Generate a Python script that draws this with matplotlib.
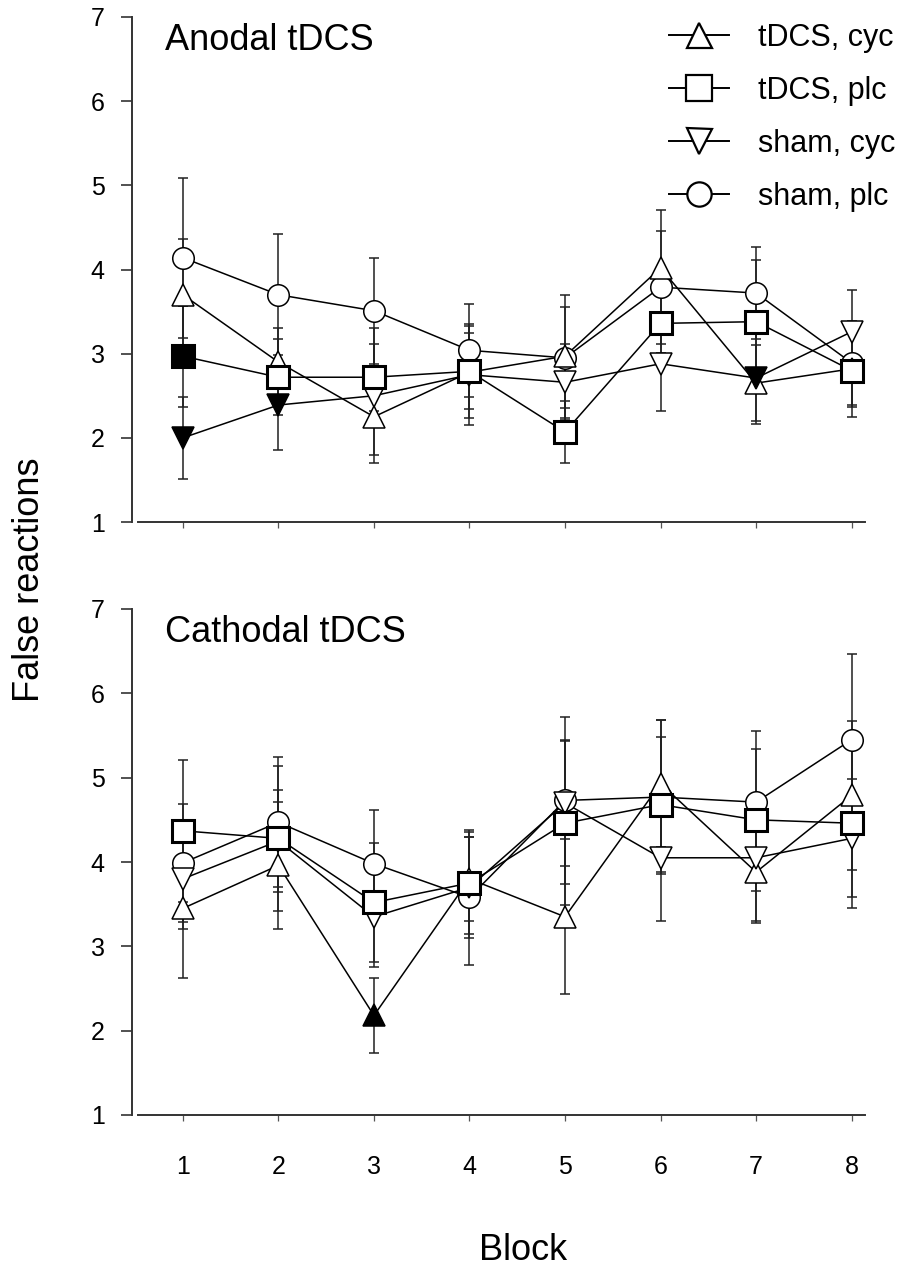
import numpy as np
import matplotlib
matplotlib.use("Agg")
import matplotlib.pyplot as plt
from matplotlib.lines import Line2D

plt.rcParams['font.family'] = ['Liberation Sans', 'DejaVu Sans']

# data
blocks = [1, 2, 3, 4, 5, 6, 7, 8]
series = ['tDCS, cyc', 'tDCS, plc', 'sham, cyc', 'sham, plc']

# anodal tDCS (mean, error)
an_tdcs_cyc = [3.70, 2.90, 2.25, 2.78, 2.97, 4.02, 2.65, 2.82]
an_tdcs_cyc_err = [0.66, 0.40, 0.45, 0.55, 0.73, 0.69, 0.45, 0.45]
an_tdcs_plc = [2.97, 2.72, 2.72, 2.79, 2.07, 3.36, 3.38, 2.80]
an_tdcs_plc_err = [0.60, 0.45, 0.40, 0.45, 0.37, 0.35, 0.73, 0.55]
an_sham_cyc = [2.00, 2.39, 2.50, 2.75, 2.66, 2.88, 2.71, 3.26]
an_sham_cyc_err = [0.49, 0.53, 0.80, 0.60, 0.45, 0.56, 0.55, 0.50]
an_sham_plc = [4.14, 3.70, 3.51, 3.04, 2.95, 3.79, 3.72, 2.89]
an_sham_plc_err = [0.95, 0.72, 0.63, 0.55, 0.60, 0.67, 0.55, 0.50]
an_filled = {'tDCS, plc': [1], 'sham, cyc': [1, 2, 7]}

# cathodal tDCS (mean, error)
ca_tdcs_cyc = [3.45, 3.96, 2.18, 3.80, 3.35, 4.93, 3.88, 4.79]
ca_tdcs_cyc_err = [0.83, 0.75, 0.44, 0.50, 0.92, 0.75, 0.60, 0.88]
ca_tdcs_plc = [4.37, 4.28, 3.52, 3.75, 4.46, 4.68, 4.50, 4.46]
ca_tdcs_plc_err = [0.84, 0.86, 0.70, 0.60, 0.97, 0.80, 0.84, 1.00]
ca_sham_cyc = [3.80, 4.25, 3.35, 3.70, 4.70, 4.05, 4.05, 4.28]
ca_sham_cyc_err = [0.60, 0.60, 0.60, 0.60, 0.75, 0.75, 0.75, 0.70]
ca_sham_plc = [3.99, 4.47, 3.98, 3.58, 4.73, 4.77, 4.71, 5.45]
ca_sham_plc_err = [0.70, 0.77, 0.64, 0.80, 0.99, 0.91, 0.84, 1.02]
ca_filled = {'tDCS, cyc': [3]}

yticks = [1, 2, 3, 4, 5, 6, 7]

#marker styles per series
markers = {'tDCS, cyc': '^', 'tDCS, plc': 's', 'sham, cyc': 'v', 'sham, plc': 'o'}
msizes = {'tDCS, cyc': 16, 'tDCS, plc': 16.5, 'sham, cyc': 16, 'sham, plc': 15.5}
mews = {'tDCS, cyc': 1.1, 'tDCS, plc': 2.2, 'sham, cyc': 1.1, 'sham, plc': 1.1}
stack = ['sham, plc', 'tDCS, cyc', 'sham, cyc', 'tDCS, plc']
ecol = '#202020'
scol = '#333333'

fig = plt.figure(figsize=(9.1, 12.73), dpi=100)
W, H = 910., 1273.
ax_top = fig.add_axes([138/W, 1-522/H, 727/W, 505/H])
ax_bot = fig.add_axes([138/W, 1-1115/H, 727/W, 506/H])


def draw_panel(ax, means, errs, filled, title, show_xlabels):
    x = np.array(blocks)
    for name in series:
        ax.errorbar(x, means[name], yerr=errs[name], fmt='none', ecolor=ecol,
                    elinewidth=1.1, capsize=3.8, capthick=1.1, zorder=1)
    for name in series:
        ax.plot(x, means[name], color='k', lw=1.1, zorder=2)
    for rank, name in enumerate(stack):
        m = np.array(means[name], float)
        full = np.isin(x, filled.get(name, []))
        ax.plot(x[~full], m[~full], ls='none', marker=markers[name],
                ms=msizes[name], mfc='white', mec='k', mew=mews[name],
                zorder=3 + rank)
        if full.any():
            ax.plot(x[full], m[full], ls='none', marker=markers[name],
                    ms=msizes[name], mfc='k', mec='k', mew=mews[name],
                    zorder=3 + rank)

    ax.set_xlim(0.53, 8.14)
    ax.set_ylim(1, 7)
    ax.set_yticks(yticks)
    ax.set_xticks(blocks)
    ax.spines['right'].set_visible(False)
    ax.spines['top'].set_visible(False)
    ax.spines['left'].set_position(('outward', 4))
    for s in ('left', 'bottom'):
        ax.spines[s].set_color(scol)
        ax.spines[s].set_linewidth(1.4)
    ax.tick_params(axis='y', direction='out', length=8, width=1.2,
                   color=scol, labelsize=18, pad=12)
    ax.tick_params(axis='x', direction='out', length=4.5, width=0.9,
                   color='#555555', labelsize=18, pad=24)
    if not show_xlabels:
        ax.set_xticklabels([])
    ax.text(0.037, 1 - 33/505., title, transform=ax.transAxes,
            fontsize=26, va='baseline', ha='left')


draw_panel(ax_top,
           {'tDCS, cyc': an_tdcs_cyc, 'tDCS, plc': an_tdcs_plc,
            'sham, cyc': an_sham_cyc, 'sham, plc': an_sham_plc},
           {'tDCS, cyc': an_tdcs_cyc_err, 'tDCS, plc': an_tdcs_plc_err,
            'sham, cyc': an_sham_cyc_err, 'sham, plc': an_sham_plc_err},
           an_filled, 'Anodal tDCS', False)
draw_panel(ax_bot,
           {'tDCS, cyc': ca_tdcs_cyc, 'tDCS, plc': ca_tdcs_plc,
            'sham, cyc': ca_sham_cyc, 'sham, plc': ca_sham_plc},
           {'tDCS, cyc': ca_tdcs_cyc_err, 'tDCS, plc': ca_tdcs_plc_err,
            'sham, cyc': ca_sham_cyc_err, 'sham, plc': ca_sham_plc_err},
           ca_filled, 'Cathodal tDCS', True)

#legend
handles = [Line2D([], [], color='k', lw=1.4, marker=markers[n], ms=msizes[n] + 2,
                  mfc='white', mec='k', mew=1.6) for n in series]
fig.legend(handles, series, loc='upper left', frameon=False, fontsize=22,
           bbox_to_anchor=(669/W, 1 - 23/H), bbox_transform=fig.transFigure,
           borderpad=0, borderaxespad=0, handlelength=1.95, handletextpad=0.95,
           labelspacing=0.75)

fig.text(30/W, 1 - 580/H, 'False reactions', rotation=90, fontsize=26,
         ha='center', va='center')
fig.text(523/W, 1 - 1250/H, 'Block', fontsize=26, ha='center', va='center')

fig.savefig('out.png', dpi=100)
